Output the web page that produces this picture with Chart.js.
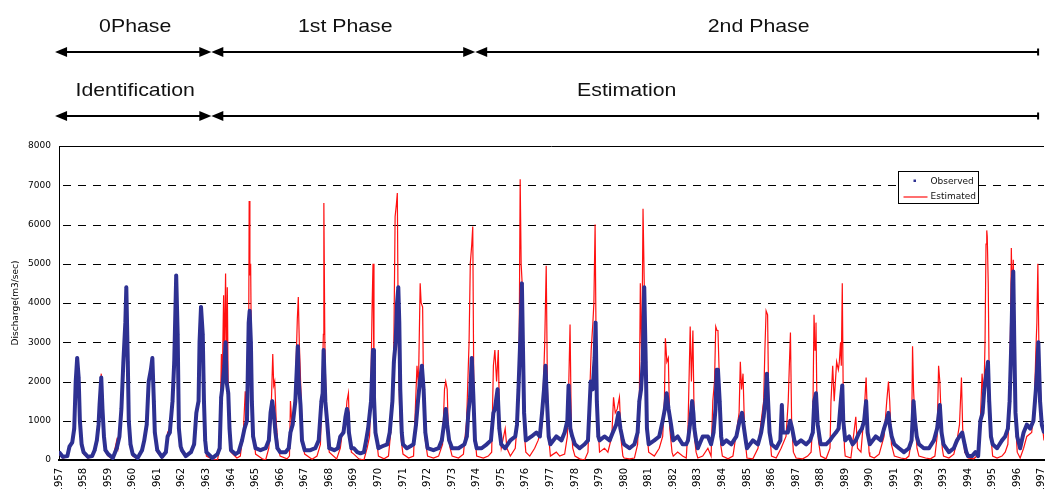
<!DOCTYPE html>
<html>
<head>
<meta charset="utf-8">
<script src="https://cdn.jsdelivr.net/npm/chart.js@4.4.1/dist/chart.umd.min.js"></script>
<style>
  html, body { margin: 0; padding: 0; background: #fff; }
  #wrap { width: 1048px; height: 489px; position: relative; }
</style>
</head>
<body>
<div id="wrap"><canvas id="chart"></canvas></div>
<script>
// year ticks on the x axis
const yearTicks = [1957, 1958, 1959, 1960, 1961, 1962, 1963, 1964, 1965, 1966, 1967, 1968, 1969,
  1970, 1971, 1972, 1973, 1974, 1975, 1976, 1977, 1978, 1979, 1980, 1981, 1982, 1983, 1984,
  1985, 1986, 1987, 1988, 1989, 1990, 1991, 1992, 1993, 1994, 1995, 1996, 1997];
const flowTicks = [0, 1000, 2000, 3000, 4000, 5000, 6000, 7000, 8000];

// period annotations above the plot (in years)
const phaseLabels = ['0Phase', '1st Phase', '2nd Phase'];
const phaseBounds = [1956.84, 1963.2, 1973.94, 1996.85];
const stageLabels = ['Identification', 'Estimation'];
const stageBounds = [1956.84, 1963.2, 1996.85];

// observed discharge [year, m3/sec]
const observed = [
  [1957.00,200],[1957.16,80],[1957.34,100],[1957.43,350],[1957.54,450],[1957.62,800],[1957.68,2000],[1957.74,2600],[1957.80,2100],[1957.85,1000],[1957.92,400],
  [1958.00,200],[1958.18,80],[1958.35,100],[1958.45,250],[1958.54,500],[1958.61,900],[1958.65,1400],[1958.72,2100],[1958.77,1300],[1958.83,600],[1958.89,250],
  [1959.00,150],[1959.19,50],[1959.35,300],[1959.46,600],[1959.54,1300],[1959.62,2500],[1959.70,3500],[1959.74,4400],[1959.80,2500],[1959.84,1000],[1959.91,400],
  [1960.00,150],[1960.20,50],[1960.38,250],[1960.47,500],[1960.57,900],[1960.65,2000],[1960.74,2300],[1960.80,2600],[1960.86,1500],[1960.90,700],
  [1961.00,250],[1961.19,80],[1961.35,200],[1961.42,600],[1961.51,700],[1961.62,1500],[1961.69,2500],[1961.77,4700],[1961.83,3200],[1961.88,800],[1961.95,350],
  [1962.00,250],[1962.16,100],[1962.37,200],[1962.50,400],[1962.59,1200],[1962.68,1500],[1962.72,3000],[1962.78,3900],[1962.85,3200],[1962.90,1500],[1962.95,500],
  [1963.00,200],[1963.24,50],[1963.45,150],[1963.54,300],[1963.60,1600],[1963.64,1800],[1963.73,2400],[1963.78,3000],[1963.82,2000],[1963.89,1700],[1963.94,800],
  [1964.00,250],[1964.18,150],[1964.31,200],[1964.45,500],[1964.55,800],[1964.65,1000],[1964.72,3500],[1964.76,3800],[1964.81,3000],[1964.85,1500],[1964.90,600],
  [1965.00,300],[1965.20,250],[1965.41,300],[1965.54,500],[1965.61,1200],[1965.68,1500],[1965.74,1200],[1965.81,700],[1965.89,300],
  [1966.00,200],[1966.22,200],[1966.35,300],[1966.42,700],[1966.51,900],[1966.62,1500],[1966.72,2900],[1966.76,2000],[1966.83,1400],[1966.89,500],
  [1967.00,250],[1967.23,250],[1967.43,300],[1967.57,500],[1967.68,1500],[1967.73,1700],[1967.77,2800],[1967.84,1500],[1967.91,1000],
  [1968.00,300],[1968.20,250],[1968.35,300],[1968.45,600],[1968.58,700],[1968.66,1100],[1968.72,1300],[1968.76,1200],[1968.80,700],[1968.90,300],
  [1969.00,300],[1969.14,200],[1969.27,170],[1969.41,200],[1969.50,500],[1969.58,800],[1969.70,1500],[1969.78,2800],[1969.82,1600],[1969.88,700],
  [1970.00,300],[1970.16,350],[1970.36,400],[1970.46,700],[1970.57,1500],[1970.63,2500],[1970.70,3000],[1970.76,4000],[1970.81,4400],[1970.85,3500],[1970.89,1800],[1970.95,700],
  [1971.00,400],[1971.16,300],[1971.30,350],[1971.43,400],[1971.53,900],[1971.61,1500],[1971.69,2000],[1971.77,2400],[1971.84,1800],[1971.91,700],
  [1972.00,300],[1972.24,250],[1972.45,300],[1972.58,500],[1972.69,1000],[1972.74,1300],[1972.80,900],[1972.88,500],
  [1973.00,300],[1973.26,300],[1973.50,400],[1973.60,600],[1973.66,1200],[1973.73,1600],[1973.80,2600],[1973.86,1700],[1973.93,500],
  [1974.00,300],[1974.20,300],[1974.41,400],[1974.58,500],[1974.68,1200],[1974.74,1300],[1974.85,1800],[1974.92,800],
  [1975.00,400],[1975.16,300],[1975.37,500],[1975.57,600],[1975.64,900],[1975.70,1800],[1975.77,3000],[1975.84,4500],[1975.88,3000],[1975.93,1200],
  [1976.00,500],[1976.23,600],[1976.43,700],[1976.57,600],[1976.66,1200],[1976.74,1800],[1976.80,2400],[1976.86,1500],[1976.93,600],
  [1977.00,400],[1977.24,600],[1977.45,500],[1977.58,700],[1977.69,1000],[1977.74,1900],[1977.81,800],[1977.89,600],
  [1978.00,400],[1978.19,300],[1978.39,400],[1978.53,500],[1978.64,2000],[1978.72,1800],[1978.80,2600],[1978.84,3500],[1978.89,1500],[1978.95,600],
  [1979.00,500],[1979.20,600],[1979.41,500],[1979.54,700],[1979.68,900],[1979.77,1200],[1979.85,800],[1979.95,500],
  [1980.00,400],[1980.22,300],[1980.42,400],[1980.55,700],[1980.62,1500],[1980.69,1800],[1980.76,2500],[1980.82,4400],[1980.88,2500],[1980.93,800],
  [1981.00,400],[1981.23,500],[1981.43,600],[1981.57,1000],[1981.66,1300],[1981.73,1700],[1981.81,1300],[1981.91,900],
  [1982.00,500],[1982.18,600],[1982.38,400],[1982.53,400],[1982.60,500],[1982.68,900],[1982.77,1500],[1982.82,1200],[1982.86,800],[1982.93,500],
  [1983.00,300],[1983.20,600],[1983.41,600],[1983.54,400],[1983.64,700],[1983.72,1300],[1983.77,2300],[1983.82,2300],[1983.89,1500],[1983.95,600],
  [1984.00,400],[1984.16,500],[1984.36,400],[1984.57,600],[1984.70,1000],[1984.80,1200],[1984.86,900],[1984.95,500],
  [1985.00,300],[1985.24,500],[1985.45,400],[1985.58,700],[1985.68,1100],[1985.76,1600],[1985.81,2200],[1985.86,1500],[1985.92,700],
  [1986.00,400],[1986.19,300],[1986.36,500],[1986.42,1400],[1986.46,700],[1986.55,700],[1986.66,700],[1986.76,1000],[1986.84,800],[1986.93,500],
  [1987.00,400],[1987.20,500],[1987.41,400],[1987.57,500],[1987.68,700],[1987.74,1500],[1987.81,1700],[1987.88,900],[1987.95,600],
  [1988.00,400],[1988.22,400],[1988.38,500],[1988.49,600],[1988.62,700],[1988.73,800],[1988.82,1500],[1988.88,1900],[1988.92,1000],
  [1989.00,500],[1989.16,600],[1989.30,400],[1989.43,500],[1989.57,700],[1989.68,800],[1989.77,1000],[1989.85,1500],[1989.91,700],
  [1990.00,400],[1990.24,600],[1990.45,500],[1990.58,800],[1990.68,1000],[1990.76,1200],[1990.81,900],[1990.89,600],
  [1991.00,400],[1991.19,300],[1991.39,200],[1991.59,300],[1991.70,500],[1991.78,1500],[1991.84,1000],[1991.91,600],
  [1992.00,400],[1992.20,300],[1992.41,300],[1992.61,500],[1992.74,800],[1992.85,1400],[1992.92,700],
  [1993.00,400],[1993.22,200],[1993.42,300],[1993.55,500],[1993.65,600],[1993.76,700],[1993.86,400],[1993.93,200],
  [1994.00,100],[1994.16,100],[1994.30,200],[1994.41,100],[1994.50,1000],[1994.59,1200],[1994.66,1800],[1994.70,2000],[1994.77,2300],[1994.81,2500],[1994.86,1500],[1994.93,600],
  [1995.00,400],[1995.18,300],[1995.38,500],[1995.51,600],[1995.62,800],[1995.69,1500],[1995.76,3000],[1995.81,4500],[1995.84,4800],[1995.88,3000],[1995.93,1200],
  [1996.00,600],[1996.12,300],[1996.26,700],[1996.39,900],[1996.53,800],[1996.66,1000],[1996.76,1800],[1996.81,2300],[1996.86,3000],[1996.93,1500],[1997.00,900],[1997.09,700]
];

// estimated discharge [year, m3/sec]
const estimated = [
  [1957.00,150],[1957.16,50],[1957.34,80],[1957.43,300],[1957.54,500],[1957.62,900],[1957.68,2200],[1957.72,2300],[1957.74,2500],[1957.80,2200],[1957.85,900],[1957.92,300],
  [1958.00,150],[1958.18,50],[1958.35,80],[1958.45,250],[1958.54,600],[1958.61,1000],[1958.65,1500],[1958.72,2200],[1958.77,1200],[1958.83,500],[1958.89,200],
  [1959.00,100],[1959.19,30],[1959.35,500],[1959.40,300],[1959.46,600],[1959.54,1400],[1959.62,2600],[1959.70,3600],[1959.74,4300],[1959.80,2400],[1959.84,900],[1959.91,300],
  [1960.00,100],[1960.20,30],[1960.38,300],[1960.47,600],[1960.57,900],[1960.65,2100],[1960.74,2300],[1960.80,2500],[1960.86,1400],[1960.90,600],
  [1961.00,200],[1961.19,50],[1961.35,200],[1961.42,700],[1961.51,800],[1961.62,1600],[1961.69,2400],[1961.77,4600],[1961.83,3300],[1961.88,700],[1961.95,300],
  [1962.00,200],[1962.16,80],[1962.37,200],[1962.50,500],[1962.59,1300],[1962.68,1600],[1962.72,3100],[1962.78,3900],[1962.85,3300],[1962.90,1400],[1962.95,400],
  [1963.00,100],[1963.24,20],[1963.45,0],[1963.54,300],[1963.61,2700],[1963.64,1800],[1963.70,4200],[1963.73,2500],[1963.78,4750],[1963.82,2000],[1963.85,4400],[1963.89,1500],[1963.94,600],
  [1964.00,200],[1964.24,50],[1964.38,100],[1964.51,800],[1964.58,1750],[1964.65,900],[1964.72,3000],[1964.74,6600],[1964.77,4700],[1964.80,5000],[1964.82,3500],[1964.88,1000],
  [1965.00,150],[1965.27,30],[1965.41,0],[1965.54,300],[1965.65,1600],[1965.70,2700],[1965.74,1900],[1965.78,2000],[1965.84,1000],[1965.92,300],
  [1966.00,100],[1966.28,30],[1966.38,100],[1966.42,1500],[1966.49,800],[1966.62,1800],[1966.70,3600],[1966.74,4150],[1966.78,3000],[1966.86,1500],[1966.91,400],
  [1967.00,150],[1967.30,20],[1967.50,100],[1967.64,400],[1967.70,1700],[1967.76,3200],[1967.78,6550],[1967.82,3000],[1967.88,1000],[1967.94,700],
  [1968.00,200],[1968.30,30],[1968.45,300],[1968.55,800],[1968.66,1000],[1968.72,1500],[1968.78,1700],[1968.82,700],[1968.90,200],
  [1969.00,150],[1969.20,30],[1969.41,0],[1969.54,300],[1969.64,600],[1969.69,1600],[1969.74,3800],[1969.78,5000],[1969.82,2000],[1969.88,800],
  [1970.00,100],[1970.23,30],[1970.41,100],[1970.50,700],[1970.57,1800],[1970.63,3000],[1970.68,6200],[1970.73,6500],[1970.77,6800],[1970.81,3000],[1970.86,1400],[1970.93,500],
  [1971.00,150],[1971.23,50],[1971.43,100],[1971.57,2400],[1971.63,1900],[1971.70,4500],[1971.74,4000],[1971.80,3900],[1971.84,1500],[1971.91,500],
  [1972.00,100],[1972.24,50],[1972.45,100],[1972.61,400],[1972.69,1800],[1972.74,2000],[1972.80,1800],[1972.85,600],[1972.92,300],
  [1973.00,100],[1973.26,50],[1973.46,150],[1973.59,1000],[1973.69,3000],[1973.74,5000],[1973.80,5500],[1973.84,5950],[1973.88,2000],[1973.93,600],
  [1974.00,100],[1974.27,50],[1974.47,100],[1974.61,200],[1974.68,2400],[1974.74,2800],[1974.81,2000],[1974.88,2800],[1974.93,1000],
  [1975.00,300],[1975.16,800],[1975.23,300],[1975.37,100],[1975.57,300],[1975.66,1000],[1975.73,3000],[1975.77,7150],[1975.81,5000],[1975.85,4500],[1975.89,2000],[1975.95,600],
  [1976.00,200],[1976.16,100],[1976.36,300],[1976.50,500],[1976.64,800],[1976.70,1600],[1976.77,3000],[1976.83,4950],[1976.88,1800],[1976.93,600],
  [1977.00,100],[1977.24,200],[1977.38,100],[1977.58,150],[1977.69,600],[1977.74,1700],[1977.80,3450],[1977.85,900],[1977.91,300],
  [1978.00,100],[1978.19,30],[1978.39,0],[1978.53,200],[1978.59,1500],[1978.66,2800],[1978.73,3500],[1978.77,4000],[1978.82,6000],[1978.86,3000],[1978.93,1000],
  [1979.00,200],[1979.20,300],[1979.34,200],[1979.50,600],[1979.57,1600],[1979.64,1200],[1979.72,1300],[1979.81,1600],[1979.88,500],[1979.95,100],
  [1980.00,50],[1980.22,30],[1980.42,50],[1980.55,400],[1980.62,1500],[1980.66,4500],[1980.72,2500],[1980.77,6400],[1980.82,4500],[1980.88,2500],[1980.93,700],
  [1981.00,200],[1981.23,100],[1981.43,300],[1981.57,600],[1981.64,1500],[1981.68,3100],[1981.74,2500],[1981.80,2600],[1981.86,800],[1981.95,200],
  [1982.00,100],[1982.18,200],[1982.38,100],[1982.53,50],[1982.60,800],[1982.69,3400],[1982.74,2000],[1982.80,3300],[1982.86,600],[1982.93,200],
  [1983.00,50],[1983.20,100],[1983.41,300],[1983.54,100],[1983.61,1500],[1983.68,2000],[1983.73,3400],[1983.78,3300],[1983.82,3300],[1983.88,2000],[1983.93,400],
  [1984.00,100],[1984.23,30],[1984.43,100],[1984.57,700],[1984.68,1200],[1984.73,2500],[1984.78,1800],[1984.84,2200],[1984.91,600],
  [1985.00,50],[1985.24,30],[1985.45,300],[1985.58,1000],[1985.68,1500],[1985.73,2800],[1985.78,3800],[1985.84,3700],[1985.89,1200],[1985.95,500],
  [1986.00,100],[1986.19,50],[1986.39,300],[1986.59,600],[1986.68,1500],[1986.73,2500],[1986.77,3250],[1986.82,900],[1986.89,200],
  [1987.00,50],[1987.27,30],[1987.47,100],[1987.61,200],[1987.68,1000],[1987.73,3700],[1987.77,2800],[1987.81,3500],[1987.85,1300],[1987.91,500],
  [1988.00,100],[1988.22,30],[1988.38,300],[1988.42,1500],[1988.49,2400],[1988.55,1500],[1988.65,2500],[1988.72,2300],[1988.76,2500],[1988.81,3000],[1988.84,2400],[1988.88,4500],[1988.92,1500],[1988.97,300],
  [1989.00,100],[1989.23,50],[1989.43,1100],[1989.50,300],[1989.64,200],[1989.77,1200],[1989.85,2100],[1989.91,1000],[1989.97,200],
  [1990.00,100],[1990.18,50],[1990.38,150],[1990.58,600],[1990.69,1500],[1990.76,2000],[1990.81,1500],[1990.88,400],
  [1991.00,100],[1991.26,50],[1991.46,30],[1991.59,100],[1991.70,500],[1991.74,2900],[1991.78,1800],[1991.84,1000],[1991.92,300],
  [1992.00,100],[1992.27,50],[1992.47,30],[1992.65,100],[1992.74,600],[1992.80,2400],[1992.85,2000],[1992.91,1000],[1992.95,300],
  [1993.00,100],[1993.22,50],[1993.42,150],[1993.55,500],[1993.65,900],[1993.73,2100],[1993.78,800],[1993.86,200],
  [1994.00,50],[1994.23,30],[1994.36,100],[1994.43,300],[1994.50,1000],[1994.57,2200],[1994.64,1500],[1994.69,3000],[1994.73,5500],[1994.76,5850],[1994.78,5700],[1994.82,4500],[1994.86,2000],[1994.93,600],
  [1995.00,100],[1995.18,50],[1995.38,100],[1995.51,200],[1995.62,400],[1995.68,1500],[1995.73,3500],[1995.76,5400],[1995.80,4000],[1995.84,5100],[1995.88,3000],[1995.93,1000],
  [1996.00,200],[1996.12,50],[1996.26,300],[1996.39,600],[1996.59,700],[1996.70,1500],[1996.76,2800],[1996.80,3500],[1996.84,5000],[1996.88,3000],[1996.93,2000],[1997.00,1000],[1997.09,500]
];

const BLUE = '#2e3192';
const RED = '#ff1010';

function drawHead(ctx, tipX, y, dir) {
  ctx.beginPath();
  ctx.moveTo(tipX, y);
  ctx.lineTo(tipX + dir * 12, y - 5);
  ctx.lineTo(tipX + dir * 12, y + 5);
  ctx.closePath();
  ctx.fill();
}

function drawArrowRow(ctx, xs, bounds, labels, lineY, textY) {
  for (let i = 0; i < labels.length; i++) {
    const a = xs.getPixelForValue(bounds[i]);
    const b = xs.getPixelForValue(bounds[i + 1]);
    const last = i === labels.length - 1;
    ctx.strokeStyle = '#000';
    ctx.fillStyle = '#000';
    ctx.lineWidth = 2;
    ctx.beginPath();
    ctx.moveTo(a + 8, lineY);
    ctx.lineTo(last ? b : b - 8, lineY);
    ctx.stroke();
    drawHead(ctx, a, lineY, 1);
    if (last) {
      // the right end of the figure cuts the arrow head off
      ctx.fillRect(b - 1, lineY - 3.5, 2, 7);
    } else {
      drawHead(ctx, b, lineY, -1);
    }

    ctx.save();
    ctx.translate((a + b) / 2 + 2, textY);
    ctx.scale(1.15, 1);
    ctx.font = '18.5px "Liberation Sans", Arial, sans-serif';
    ctx.textAlign = 'center';
    ctx.textBaseline = 'alphabetic';
    ctx.fillStyle = '#111';
    ctx.fillText(labels[i], 0, 0);
    ctx.restore();
  }
}

// dashed horizontal grid and top frame line
const gridLines = {
  id: 'gridLines',
  beforeDatasetsDraw(chart) {
    const { ctx, chartArea } = chart;
    const ys = chart.scales.y;
    ctx.save();
    ctx.strokeStyle = '#000';
    ctx.lineWidth = 1;
    ys.ticks.forEach(t => {
      if (t.value <= 0 || t.value >= 8000) return;
      const y = Math.round(ys.getPixelForValue(t.value)) + 0.5;
      ctx.setLineDash([8, 7]);
      ctx.lineDashOffset = 11;
      ctx.beginPath();
      ctx.moveTo(chartArea.left, y);
      ctx.lineTo(chartArea.right, y);
      ctx.stroke();
    });
    ctx.setLineDash([]);
    const top = Math.round(chartArea.top) + 0.5;
    ctx.beginPath();
    ctx.moveTo(chartArea.left, top);
    ctx.lineTo(chartArea.right, top);
    ctx.stroke();
    ctx.restore();
  }
};

// phase arrows + legend box
const overlay = {
  id: 'overlay',
  afterDraw(chart) {
    const { ctx, chartArea } = chart;
    const xs = chart.scales.x;
    ctx.save();
    drawArrowRow(ctx, xs, phaseBounds, phaseLabels, 52, 31.7);
    drawArrowRow(ctx, xs, stageBounds, stageLabels, 116, 95.7);

    const lx = Math.round(chartArea.right - 146) + 0.5;
    const ly = Math.round(chartArea.top + 25) + 0.5;
    ctx.fillStyle = '#fff';
    ctx.fillRect(lx, ly, 80, 32);
    ctx.strokeStyle = '#000';
    ctx.lineWidth = 1;
    ctx.strokeRect(lx, ly, 80, 32);
    ctx.fillStyle = BLUE;
    ctx.fillRect(lx + 15, ly + 8, 2.5, 2.5);
    ctx.strokeStyle = RED;
    ctx.lineWidth = 1.2;
    ctx.beginPath();
    ctx.moveTo(lx + 5, ly + 25.5);
    ctx.lineTo(lx + 29, ly + 25.5);
    ctx.stroke();
    ctx.fillStyle = '#111';
    ctx.font = '9px "DejaVu Sans", sans-serif';
    ctx.textAlign = 'left';
    ctx.textBaseline = 'middle';
    ctx.fillText('Observed', lx + 32, ly + 10.5);
    ctx.fillText('Estimated', lx + 32, ly + 25.5);
    ctx.restore();
  }
};

new Chart(document.getElementById('chart'), {
  type: 'line',
  data: {
    datasets: [
      {
        label: 'Observed',
        data: observed.map(p => ({ x: p[0], y: p[1] })),
        borderColor: BLUE,
        backgroundColor: BLUE,
        borderWidth: 4,
        borderJoinStyle: 'round',
        pointRadius: 1.5,
        pointBorderWidth: 0,
        pointBackgroundColor: BLUE,
        tension: 0
      },
      {
        label: 'Estimated',
        data: estimated.map(p => ({ x: p[0], y: p[1] })),
        borderColor: RED,
        backgroundColor: RED,
        borderWidth: 1.2,
        pointRadius: 0,
        tension: 0
      }
    ]
  },
  options: {
    responsive: true,
    maintainAspectRatio: false,
    animation: false,
    devicePixelRatio: 1,
    layout: { padding: { top: 146, right: 0, bottom: 0, left: 0 } },
    plugins: {
      legend: { display: false },
      tooltip: { enabled: false }
    },
    scales: {
      x: {
        type: 'linear',
        min: 1957,
        max: 1997.09,
        grid: { display: false, drawTicks: false },
        border: { display: true, color: '#000', width: 2 },
        afterBuildTicks: s => { s.ticks = yearTicks.map(v => ({ value: v })); },
        afterFit: s => { s.height = 29; s.paddingLeft = 0; s.paddingRight = 0; },
        ticks: {
          autoSkip: false,
          minRotation: 90,
          maxRotation: 90,
          padding: 8,
          color: '#000',
          font: { family: '"DejaVu Sans", sans-serif', size: 10 },
          callback: v => String(v)
        }
      },
      y: {
        min: 0,
        max: 8000,
        grid: { display: false, drawTicks: false },
        border: { display: true, color: '#000', width: 1 },
        afterBuildTicks: s => { s.ticks = flowTicks.map(v => ({ value: v })); },
        afterFit: s => { s.width = 59; },
        ticks: {
          padding: 8,
          color: '#000',
          font: { family: '"DejaVu Sans", sans-serif', size: 9 },
          callback: v => String(v)
        },
        title: {
          display: true,
          text: 'Discharge(m3/sec)',
          color: '#000',
          font: { family: '"DejaVu Sans", sans-serif', size: 9 },
          padding: { top: 10.5, bottom: 0 }
        }
      }
    }
  },
  plugins: [gridLines, overlay]
});
</script>
</body>
</html>
